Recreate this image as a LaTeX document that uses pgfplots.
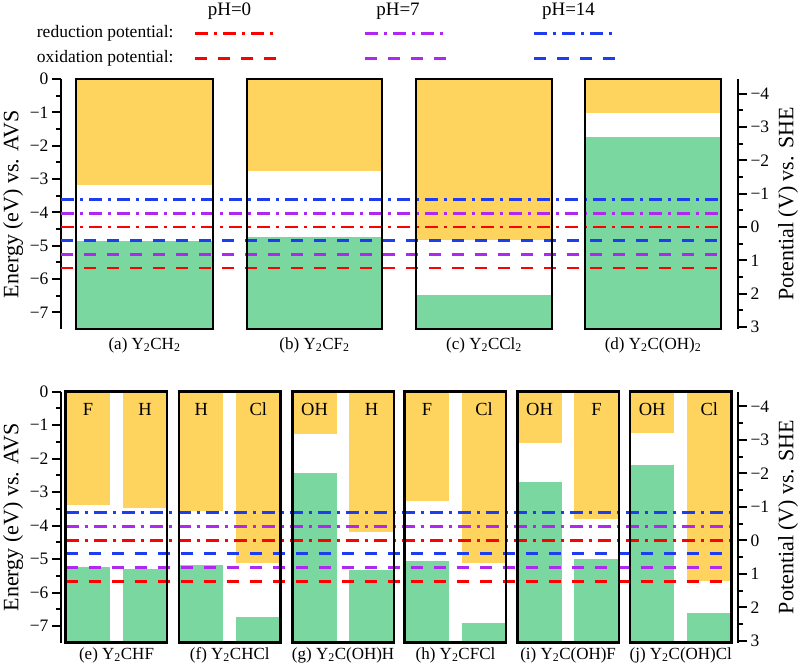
\documentclass[border=0pt]{standalone}
\usepackage{fontspec}
\setmainfont{Liberation Serif}
\usepackage{pgfplots}
\pgfplotsset{compat=1.18}
\definecolor{cbcol}{HTML}{FFD45E}
\definecolor{vbcol}{HTML}{7AD7A0}
\definecolor{phA}{HTML}{FF0000}
\definecolor{phB}{HTML}{B028F0}
\definecolor{phC}{HTML}{1E3CF0}
\tikzset{redpot/.style={line width=2.7pt, dash pattern=on 13pt off 6pt on 3pt off 6pt},
  oxpot/.style={line width=2.7pt, dash pattern=on 12pt off 11pt}}
\newcommand{\fs}[1]{\rmfamily\fontsize{#1}{#1}\selectfont}
% band: left, right, CBM, VBM
\newcommand{\band}[4]{%
  \addplot[fill=cbcol, draw=none] coordinates {(#1,0) (#2,0) (#2,#3) (#1,#3)} -- cycle;
  \addplot[fill=vbcol, draw=none] coordinates {(#1,-7.5) (#2,-7.5) (#2,#4) (#1,#4)} -- cycle;}
\newcommand{\frm}[2]{%
  \addplot[draw=black, line width=2.5pt] coordinates {(#1,0) (#2,0) (#2,-7.5) (#1,-7.5)} -- cycle;}
\newcommand{\pots}[2]{%
  \addplot[phC, redpot] coordinates {(#1,-3.614) (#2,-3.614)};
  \addplot[phB, redpot] coordinates {(#1,-4.027) (#2,-4.027)};
  \addplot[phA, redpot] coordinates {(#1,-4.44) (#2,-4.44)};
  \addplot[phC, oxpot] coordinates {(#1,-4.844) (#2,-4.844)};
  \addplot[phB, oxpot] coordinates {(#1,-5.257) (#2,-5.257)};
  \addplot[phA, oxpot] coordinates {(#1,-5.67) (#2,-5.67)};}
\newcommand{\tl}[1]{\textrm{#1}}
\pgfplotsset{
  base/.style={scale only axis, width=677pt, xmin=61, xmax=738, axis x line=none,
    clip=false, tick align=outside, major tick length=9pt, minor tick length=5pt,
    every tick/.style={black, line width=2pt}, minor y tick num=1,
    y axis line style={line width=2pt,-},
    yticklabel style={font=\fs{17.5}}},
  leftax/.style={base, ymin=-7.5, ymax=0, axis y line*=left,
    ytick={-7,-6,-5,-4,-3,-2,-1,0},
    yticklabels={\tl{−7},\tl{−6},\tl{−5},\tl{−4},\tl{−3},\tl{−2},\tl{−1},\tl{0}},
    ylabel={Energy (eV) vs. AVS},
    every axis y label/.style={at={(axis description cs:-0.0709,0.5)}, rotate=90, anchor=center, font=\fs{22}}},
  rightax/.style={base, ymin=-4.44, ymax=3.06, y dir=reverse, axis y line*=right,
    ytick={-4,-3,-2,-1,0,1,2,3},
    yticklabels={\tl{−4},\tl{−3},\tl{−2},\tl{−1},\tl{0},\tl{1},\tl{2},\tl{3}},
    ylabel={Potential (V) vs. SHE},
    every axis y label/.style={at={(axis description cs:1.0739,0.5)}, rotate=90, anchor=center, font=\fs{22}}},
}
\newcommand{\sub}[1]{\textsubscript{#1}}
\begin{document}
\begin{tikzpicture}
\useasboundingbox (0,0) rectangle (800pt,670pt);
% ---------------- top row ----------------
\begin{axis}[leftax, height=250pt, at={(61pt,341pt)}, anchor=south west]
  \band{76}{213}{-3.18}{-4.85}
  \band{247}{382}{-2.76}{-4.73}
  \band{416}{552}{-4.83}{-6.48}
  \band{585}{721}{-1.03}{-1.73}
  \pots{61}{721}
  \frm{76}{213}
  \frm{247}{382}
  \frm{416}{552}
  \frm{585}{721}
  % legend
  \addplot[phA, redpot] coordinates {(195,1.37) (276,1.37)};
  \addplot[phA, oxpot] coordinates {(195,0.62) (276,0.62)};
  \addplot[phB, redpot] coordinates {(365,1.37) (446,1.37)};
  \addplot[phB, oxpot] coordinates {(365,0.62) (446,0.62)};
  \addplot[phC, redpot] coordinates {(534,1.37) (615,1.37)};
  \addplot[phC, oxpot] coordinates {(534,0.62) (615,0.62)};
  \node[anchor=east, font=\fs{17.5}] at (axis cs:177,1.37) {reduction potential:};
  \node[anchor=east, font=\fs{17.5}] at (axis cs:177,0.62) {oxidation potential:};
  \node[anchor=base, font=\fs{19}] at (axis cs:229.5,1.92) {pH=0};
  \node[anchor=base, font=\fs{19}] at (axis cs:398,1.92) {pH=7};
  \node[anchor=base, font=\fs{19}] at (axis cs:568.5,1.92) {pH=14};
  % panel labels
  \node[font=\fs{17}] at (axis cs:144.5,-7.98) {(a) Y\sub{2}CH\sub{2}};
  \node[font=\fs{17}] at (axis cs:314.5,-7.98) {(b) Y\sub{2}CF\sub{2}};
  \node[font=\fs{17}] at (axis cs:484,-7.98) {(c) Y\sub{2}CCl\sub{2}};
  \node[font=\fs{17}] at (axis cs:653,-7.98) {(d) Y\sub{2}C(OH)\sub{2}};
\end{axis}
\begin{axis}[rightax, height=250pt, at={(61pt,341pt)}, anchor=south west]
  \addplot[draw=none] coordinates {(100,0)};
\end{axis}
% ---------------- bottom row ----------------
\begin{axis}[leftax, height=251pt, at={(61pt,27.3pt)}, anchor=south west]
  % (e)
  \band{65.7}{110}{-3.39}{-5.23}
  \band{122.7}{167.2}{-3.47}{-5.30}
  % (f)
  \band{179}{223.3}{-3.57}{-5.19}
  \band{236}{280.5}{-5.13}{-6.74}
  % (g)
  \band{292.3}{336.6}{-1.27}{-2.43}
  \band{349.3}{393.8}{-4.18}{-5.33}
  % (h)
  \band{404.7}{449}{-3.26}{-5.06}
  \band{461.7}{506.2}{-5.11}{-6.91}
  % (i)
  \band{517.3}{561.6}{-1.52}{-2.70}
  \band{574.3}{618.8}{-3.81}{-4.99}
  % (j)
  \band{630}{674.3}{-1.24}{-2.19}
  \band{687}{731.5}{-5.66}{-6.61}
  \pots{65.7}{731.5}
  \frm{65.7}{167.2}
  \frm{179}{280.5}
  \frm{292.3}{393.8}
  \frm{404.7}{506.2}
  \frm{517.3}{618.8}
  \frm{630}{731.5}
  \begin{scope}[every node/.style={font=\fs{18.5}}]
  \node at (axis cs:87.9,-0.53) {F};
  \node at (axis cs:145,-0.53) {H};
  \node at (axis cs:201.2,-0.53) {H};
  \node at (axis cs:258.3,-0.53) {Cl};
  \node at (axis cs:314.5,-0.53) {OH};
  \node at (axis cs:371.6,-0.53) {H};
  \node at (axis cs:426.9,-0.53) {F};
  \node at (axis cs:484,-0.53) {Cl};
  \node at (axis cs:539.5,-0.53) {OH};
  \node at (axis cs:596.6,-0.53) {F};
  \node at (axis cs:652.2,-0.53) {OH};
  \node at (axis cs:709.3,-0.53) {Cl};
  \end{scope}
  \begin{scope}[every node/.style={font=\fs{17}}]
  \node at (axis cs:116.5,-7.87) {(e) Y\sub{2}CHF};
  \node at (axis cs:229.8,-7.87) {(f) Y\sub{2}CHCl};
  \node at (axis cs:343.1,-7.87) {(g) Y\sub{2}C(OH)H};
  \node at (axis cs:455.5,-7.87) {(h) Y\sub{2}CFCl};
  \node at (axis cs:568.1,-7.87) {(i) Y\sub{2}C(OH)F};
  \node at (axis cs:680.8,-7.87) {(j) Y\sub{2}C(OH)Cl};
  \end{scope}
\end{axis}
\begin{axis}[rightax, height=251pt, at={(61pt,27.3pt)}, anchor=south west]
  \addplot[draw=none] coordinates {(100,0)};
\end{axis}
\end{tikzpicture}
\end{document}
